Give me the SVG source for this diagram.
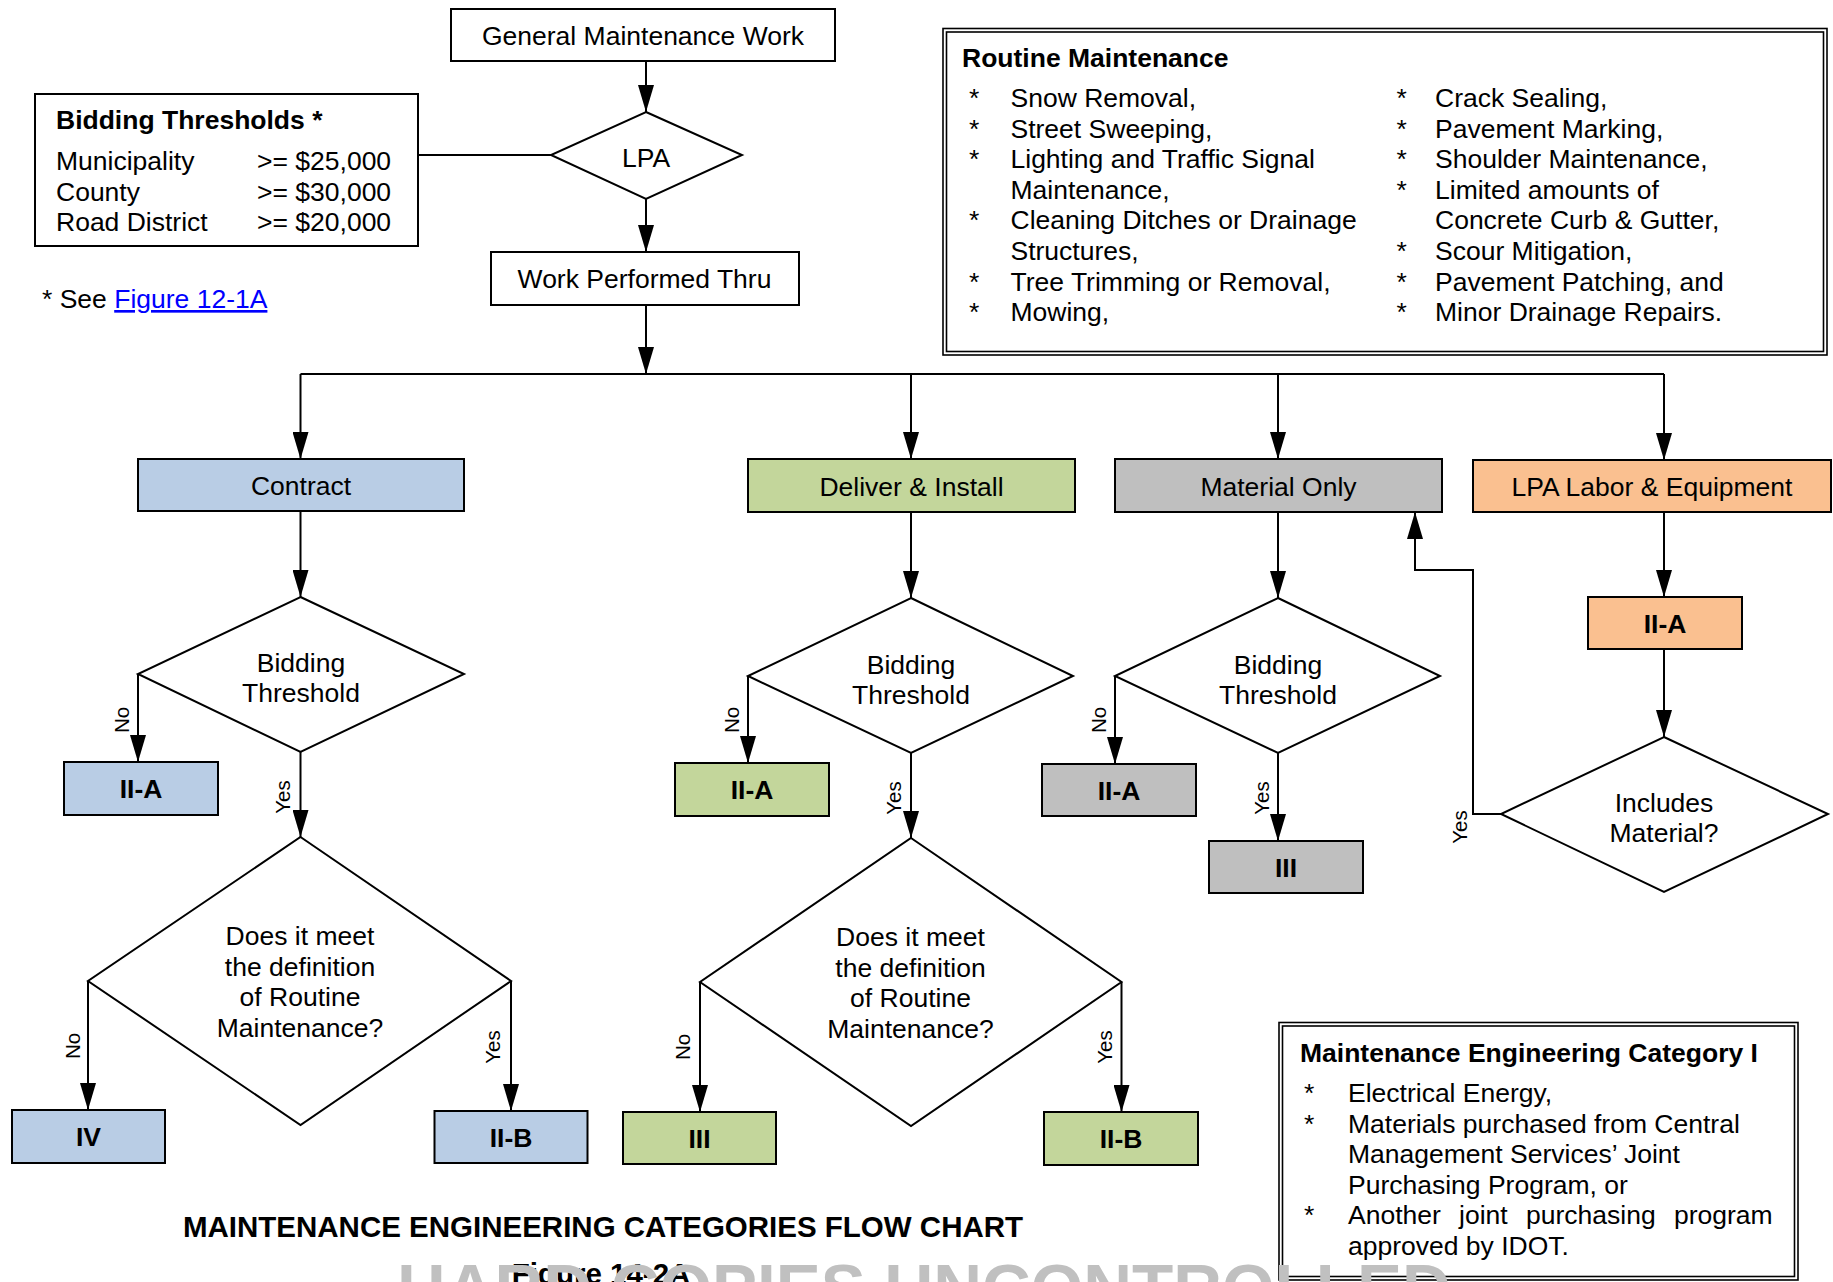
<svg xmlns="http://www.w3.org/2000/svg" width="1833" height="1282" viewBox="0 0 1833 1282">
  <style>
    text { font-family: "Liberation Sans", Arial, sans-serif; font-size: 26.5px; fill: #000; }
    .b { font-weight: bold; }
    .c { text-anchor: middle; }
    .lbl { font-size: 20.5px; text-anchor: middle; }
    .box { stroke: #000; stroke-width: 2; }
    .plain { fill: #fff; }
    .blue { fill: #b9cde5; }
    .green { fill: #c3d69b; }
    .gray { fill: #bfbfbf; }
    .orange { fill: #fac090; }
    .dia { fill: #fff; stroke: #000; stroke-width: 2; }
    .frame { fill: none; stroke: #000; stroke-width: 1.6; }
    .conn path { fill: none; stroke: #000; stroke-width: 2; }
    .arr { marker-end: url(#ah); }
    .link { fill: #0000ff; text-decoration: underline; }
    .title { font-size: 29.5px; font-weight: bold; text-anchor: middle; }
    .wm { font-size: 67.5px; font-weight: bold; fill: #c0c0c0; }
  </style>
  <defs>
    <marker id="ah" markerUnits="userSpaceOnUse" markerWidth="28" markerHeight="16" refX="27" refY="8" orient="auto">
      <path d="M0,0 L27,8 L0,16 Z" fill="#000"/>
    </marker>
  </defs>

  <rect width="1833" height="1282" fill="#fff"/>

  <!-- connectors -->
  <g id="connectors" class="conn">
    <path class="arr" d="M646,61 V112"/>
    <path d="M418,155 H551"/>
    <path class="arr" d="M646,199 V252"/>
    <path class="arr" d="M646,305 V374"/>
    <path d="M300.5,374 H1664"/>
    <path class="arr" d="M300.5,374 V459"/>
    <path class="arr" d="M911,374 V459"/>
    <path class="arr" d="M1278,374 V459"/>
    <path class="arr" d="M1664,374 V460"/>
    <!-- contract column -->
    <path class="arr" d="M300.5,511 V597"/>
    <path class="arr" d="M138,674 V762"/>
    <path class="arr" d="M300.5,752 V837"/>
    <path class="arr" d="M88,981 V1110"/>
    <path class="arr" d="M511,981 V1111"/>
    <!-- deliver & install column -->
    <path class="arr" d="M911,512 V598"/>
    <path class="arr" d="M748,676 V763"/>
    <path class="arr" d="M911,753 V838"/>
    <path class="arr" d="M700,982 V1112"/>
    <path class="arr" d="M1121.5,982 V1112"/>
    <!-- material only column -->
    <path class="arr" d="M1278,512 V598"/>
    <path class="arr" d="M1115,676 V764"/>
    <path class="arr" d="M1278,753 V841"/>
    <!-- LPA labor column -->
    <path class="arr" d="M1664,512 V597"/>
    <path class="arr" d="M1664,649 V737"/>
    <path class="arr" d="M1501,814 H1473 V570 H1415 V512"/>
  </g>

  <!-- branch labels -->
  <g id="branch-labels">
    <text class="lbl" transform="translate(129,720) rotate(-90)">No</text>
    <text class="lbl" transform="translate(290,797) rotate(-90)">Yes</text>
    <text class="lbl" transform="translate(80,1046) rotate(-90)">No</text>
    <text class="lbl" transform="translate(500,1047) rotate(-90)">Yes</text>
    <text class="lbl" transform="translate(739,720) rotate(-90)">No</text>
    <text class="lbl" transform="translate(901,798) rotate(-90)">Yes</text>
    <text class="lbl" transform="translate(690,1047) rotate(-90)">No</text>
    <text class="lbl" transform="translate(1112,1047) rotate(-90)">Yes</text>
    <text class="lbl" transform="translate(1106,720) rotate(-90)">No</text>
    <text class="lbl" transform="translate(1268.5,798) rotate(-90)">Yes</text>
    <text class="lbl" transform="translate(1467,827) rotate(-90)">Yes</text>
  </g>

  <g id="general-maintenance-work">
    <rect class="box plain" x="451" y="9" width="384" height="52"/>
    <text class="c" x="643" y="45">General Maintenance Work</text>
  </g>

  <g id="bidding-thresholds">
    <rect class="box plain" x="35" y="94" width="383" height="152"/>
    <text class="b" x="56" y="129">Bidding Thresholds *</text>
    <text x="56" y="170">Municipality</text>
    <text x="257" y="170">&gt;= $25,000</text>
    <text x="56" y="200.5">County</text>
    <text x="257" y="200.5">&gt;= $30,000</text>
    <text x="56" y="231">Road District</text>
    <text x="257" y="231">&gt;= $20,000</text>
  </g>

  <g id="see-note">
    <text x="42" y="308">* See <tspan class="link">Figure 12-1A</tspan></text>
  </g>

  <g id="lpa">
    <polygon class="dia" points="646,112 742,155 646,199 551,155"/>
    <text class="c" x="646" y="167">LPA</text>
  </g>

  <g id="work-performed-thru">
    <rect class="box plain" x="491" y="252" width="308" height="53"/>
    <text class="c" x="644.5" y="288">Work Performed Thru</text>
  </g>

  <g id="routine-maintenance">
    <rect class="frame" x="943" y="28.5" width="884" height="326.5"/>
    <rect class="frame" x="946.5" y="32" width="877" height="319.5"/>
    <text class="b" x="962" y="67">Routine Maintenance</text>
    <text x="969" y="107">*</text><text x="1010.5" y="107">Snow Removal,</text>
    <text x="969" y="137.6">*</text><text x="1010.5" y="137.6">Street Sweeping,</text>
    <text x="969" y="168.2">*</text><text x="1010.5" y="168.2">Lighting and Traffic Signal</text>
    <text x="1010.5" y="198.8">Maintenance,</text>
    <text x="969" y="229.4">*</text><text x="1010.5" y="229.4">Cleaning Ditches or Drainage</text>
    <text x="1010.5" y="260">Structures,</text>
    <text x="969" y="290.6">*</text><text x="1010.5" y="290.6">Tree Trimming or Removal,</text>
    <text x="969" y="321.2">*</text><text x="1010.5" y="321.2">Mowing,</text>
    <text x="1396.5" y="107">*</text><text x="1435" y="107">Crack Sealing,</text>
    <text x="1396.5" y="137.6">*</text><text x="1435" y="137.6">Pavement Marking,</text>
    <text x="1396.5" y="168.2">*</text><text x="1435" y="168.2">Shoulder Maintenance,</text>
    <text x="1396.5" y="198.8">*</text><text x="1435" y="198.8">Limited amounts of</text>
    <text x="1435" y="229.4">Concrete Curb &amp; Gutter,</text>
    <text x="1396.5" y="260">*</text><text x="1435" y="260">Scour Mitigation,</text>
    <text x="1396.5" y="290.6">*</text><text x="1435" y="290.6">Pavement Patching, and</text>
    <text x="1396.5" y="321.2">*</text><text x="1435" y="321.2">Minor Drainage Repairs.</text>
  </g>

  <!-- work types -->
  <g id="contract">
    <rect class="box blue" x="138" y="459" width="326" height="52"/>
    <text class="c" x="301" y="495">Contract</text>
  </g>
  <g id="deliver-install">
    <rect class="box green" x="748" y="459" width="327" height="53"/>
    <text class="c" x="911.5" y="495.5">Deliver &amp; Install</text>
  </g>
  <g id="material-only">
    <rect class="box gray" x="1115" y="459" width="327" height="53"/>
    <text class="c" x="1278.5" y="495.5">Material Only</text>
  </g>
  <g id="lpa-labor-equipment">
    <rect class="box orange" x="1473" y="460" width="358" height="52"/>
    <text class="c" x="1652" y="496">LPA Labor &amp; Equipment</text>
  </g>

  <!-- bidding threshold decisions -->
  <g id="threshold-contract">
    <polygon class="dia" points="300.5,597 464,674 300.5,752 138,674"/>
    <text class="c" x="301" y="672">Bidding</text>
    <text class="c" x="301" y="702">Threshold</text>
  </g>
  <g id="threshold-deliver">
    <polygon class="dia" points="911,598 1073,676 911,753 748,676"/>
    <text class="c" x="911" y="674">Bidding</text>
    <text class="c" x="911" y="704">Threshold</text>
  </g>
  <g id="threshold-material">
    <polygon class="dia" points="1278,598 1440,676 1278,753 1115,676"/>
    <text class="c" x="1278" y="674">Bidding</text>
    <text class="c" x="1278" y="704">Threshold</text>
  </g>

  <g id="contract-iia">
    <rect class="box blue" x="64" y="762" width="154" height="53"/>
    <text class="b c" x="141" y="798">II-A</text>
  </g>
  <g id="deliver-iia">
    <rect class="box green" x="675" y="763" width="154" height="53"/>
    <text class="b c" x="752" y="799">II-A</text>
  </g>
  <g id="material-iia">
    <rect class="box gray" x="1042" y="764" width="154" height="52"/>
    <text class="b c" x="1119" y="799.5">II-A</text>
  </g>
  <g id="material-iii">
    <rect class="box gray" x="1209" y="841" width="154" height="52"/>
    <text class="b c" x="1286" y="876.5">III</text>
  </g>
  <g id="labor-iia">
    <rect class="box orange" x="1588" y="597" width="154" height="52"/>
    <text class="b c" x="1665" y="632.5">II-A</text>
  </g>

  <g id="includes-material">
    <polygon class="dia" points="1664,737 1828,814 1664,892 1501,814"/>
    <text class="c" x="1664" y="812">Includes</text>
    <text class="c" x="1664" y="842">Material?</text>
  </g>

  <!-- routine maintenance decisions -->
  <g id="routine-contract">
    <polygon class="dia" points="300.5,837 511,981 300.5,1125 88,981"/>
    <text class="c" x="300" y="945">Does it meet</text>
    <text class="c" x="300" y="976">the definition</text>
    <text class="c" x="300" y="1006">of Routine</text>
    <text class="c" x="300" y="1037">Maintenance?</text>
  </g>
  <g id="routine-deliver">
    <polygon class="dia" points="911,838 1121.5,982 911,1126 700,982"/>
    <text class="c" x="910.5" y="946">Does it meet</text>
    <text class="c" x="910.5" y="977">the definition</text>
    <text class="c" x="910.5" y="1007">of Routine</text>
    <text class="c" x="910.5" y="1038">Maintenance?</text>
  </g>

  <g id="contract-iv">
    <rect class="box blue" x="12" y="1110" width="153" height="53"/>
    <text class="b c" x="88.5" y="1146">IV</text>
  </g>
  <g id="contract-iib">
    <rect class="box blue" x="434.5" y="1111" width="153" height="52"/>
    <text class="b c" x="511" y="1146.5">II-B</text>
  </g>
  <g id="deliver-iii">
    <rect class="box green" x="623" y="1112" width="153" height="52"/>
    <text class="b c" x="699.5" y="1147.5">III</text>
  </g>
  <g id="deliver-iib">
    <rect class="box green" x="1044" y="1112" width="154" height="53"/>
    <text class="b c" x="1121" y="1148">II-B</text>
  </g>

  <g id="category-i">
    <rect class="frame" x="1279" y="1022.5" width="519" height="257.5"/>
    <rect class="frame" x="1282.5" y="1026" width="512" height="250.5"/>
    <text class="b" x="1300" y="1061.5">Maintenance Engineering Category I</text>
    <text x="1304" y="1101.5">*</text><text x="1348" y="1101.5">Electrical Energy,</text>
    <text x="1304" y="1132.5">*</text><text x="1348" y="1132.5">Materials purchased from Central</text>
    <text x="1348" y="1163">Management Services’ Joint</text>
    <text x="1348" y="1193.5">Purchasing Program, or</text>
    <text x="1304" y="1224">*</text>
    <text y="1224"><tspan x="1348">Another</tspan><tspan x="1459">joint</tspan><tspan x="1526">purchasing</tspan><tspan x="1674">program</tspan></text>
    <text x="1348" y="1254.5">approved by IDOT.</text>
  </g>

  <g id="caption">
    <text class="title" x="603" y="1237">MAINTENANCE ENGINEERING CATEGORIES FLOW CHART</text>
    <text class="title" x="601" y="1284">Figure 14-2A</text>
  </g>

  <text class="wm" x="397" y="1311">HARD COPIES UNCONTROLLED</text>
</svg>
